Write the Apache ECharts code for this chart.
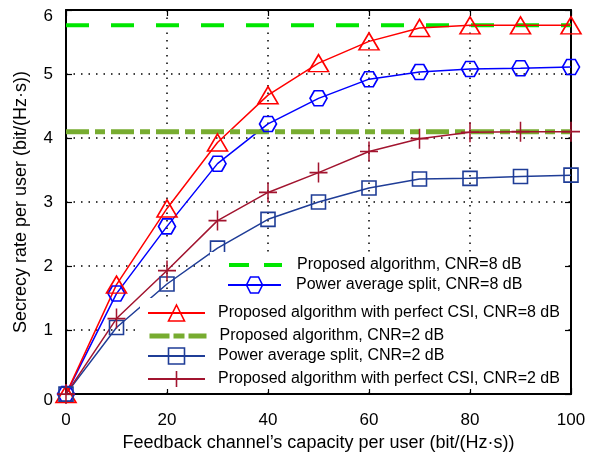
<!DOCTYPE html>
<html>
<head>
<meta charset="utf-8">
<script src="https://cdn.jsdelivr.net/npm/echarts@6/dist/echarts.min.js"></script>
<style>html,body{margin:0;padding:0;background:#fff}#c{width:595px;height:457px}</style>
</head>
<body>
<div id="c"></div>
<script>
// ---- data ----
var xValues = [0, 10, 20, 30, 40, 50, 60, 70, 80, 90, 100];
var proposed8Level = 5.76;
var proposed2Level = 4.1;
var powerAvg8 = [0, 1.57, 2.62, 3.6, 4.22, 4.62, 4.92, 5.03, 5.08, 5.09, 5.11];
var perfect8 = [0, 1.71, 2.9, 3.93, 4.67, 5.17, 5.51, 5.72, 5.76, 5.76, 5.76];
var powerAvg2 = [0, 1.04, 1.72, 2.28, 2.73, 3.0, 3.22, 3.36, 3.37, 3.4, 3.42];
var perfect2 = [0, 1.18, 1.93, 2.71, 3.15, 3.46, 3.79, 3.99, 4.09, 4.1, 4.1];
var levelX = [0, 100];
var seriesNames = [
  'Proposed algorithm, CNR=8 dB',
  'Power average split, CNR=8 dB',
  'Proposed algorithm with perfect CSI, CNR=8 dB',
  'Proposed algorithm, CNR=2 dB',
  'Power average split, CNR=2 dB',
  'Proposed algorithm with perfect CSI, CNR=2 dB'
];
var xTitle = 'Feedback channel\u2019s capacity per user (bit/(Hz\u00b7s))';
var yTitle = 'Secrecy rate per user (bit/(Hz\u00b7s))';

function pairs(xs, ys) { return xs.map(function (x, i) { return [x, ys[i]]; }); }
function level(v) { return levelX.map(function (x) { return [x, v]; }); }

var FONT = '"Liberation Sans", Arial, sans-serif';
var hexagon = 'path://M2.5,0L7.5,0L10,4.33L7.5,8.66L2.5,8.66L0,4.33Z';
var plus = 'path://M0,5L10,5M5,0L5,10';

var chart = echarts.init(document.getElementById('c'), null, {renderer: 'canvas'});

function markerSeries(name, data, color, symbol, size) {
  return {
    name: name, type: 'line', data: data, xAxisIndex: 0, yAxisIndex: 0,
    symbol: symbol, symbolSize: size, showAllSymbol: true,
    lineStyle: {color: color, width: 1.5},
    itemStyle: {color: 'rgba(0,0,0,0)', borderColor: color, borderWidth: 1.6},
    emphasis: {disabled: true}, animation: false, z: 2
  };
}

function rowLegend(name, left, centerY, itemWidth, padLeft, extra) {
  var lg = {
    data: [name], left: left, top: centerY - 10, padding: 0,
    itemWidth: itemWidth, itemHeight: 20, orient: 'vertical',
    selectedMode: false, z: 5,
    textStyle: {fontFamily: FONT, fontSize: 16, color: '#000', lineHeight: 20, padding: [0, 0, 0, padLeft]},
    itemStyle: {borderWidth: 1.6}
  };
  if (extra) Object.keys(extra).forEach(function (k) { lg[k] = extra[k]; });
  return lg;
}

var axisLineStyle = {color: '#000', width: 2};

var option = {
  backgroundColor: '#fff',
  animation: false,
  grid: {left: 66, right: 24, top: 10, bottom: 61, containLabel: false},
  xAxis: [{
    type: 'value', min: 0, max: 100, interval: 20, position: 'bottom',
    axisLine: {show: true, onZero: false, lineStyle: axisLineStyle},
    axisTick: {show: true, inside: true, length: 6, lineStyle: {color: '#000', width: 1.2}},
    axisLabel: {fontFamily: FONT, fontSize: 17, color: '#000', margin: 18},
    splitLine: {show: true, lineStyle: {color: '#000', width: 1.5, type: [1.5, 6]}},
    name: xTitle, nameLocation: 'middle', nameGap: 39,
    nameTextStyle: {fontFamily: FONT, fontSize: 18, color: '#000'}
  }, {
    type: 'value', min: 0, max: 100, interval: 20, position: 'top',
    axisLine: {show: true, onZero: false, lineStyle: axisLineStyle},
    axisTick: {show: true, inside: true, length: 6, lineStyle: {color: '#000', width: 1.2}},
    axisLabel: {show: false}, splitLine: {show: false}
  }],
  yAxis: [{
    type: 'value', min: 0, max: 6, interval: 1, position: 'left',
    axisLine: {show: true, onZero: false, lineStyle: axisLineStyle},
    axisTick: {show: true, inside: true, length: 6, lineStyle: {color: '#000', width: 1.2}},
    axisLabel: {
      fontFamily: FONT, fontSize: 17, color: '#000', margin: 13,
      formatter: function (v) { return (v === 0 || v === 6) ? '{s|' + v + '}' : String(v); },
      rich: {s: {fontFamily: FONT, fontSize: 17, color: '#000', padding: [12, 0, 0, 0]}}
    },
    splitLine: {show: true, lineStyle: {color: '#000', width: 1.5, type: [1.5, 6]}},
    name: yTitle, nameLocation: 'middle', nameGap: 36,
    nameTextStyle: {fontFamily: FONT, fontSize: 18, color: '#000'}
  }, {
    type: 'value', min: 0, max: 6, interval: 1, position: 'right',
    axisLine: {show: true, onZero: false, lineStyle: axisLineStyle},
    axisTick: {show: true, inside: true, length: 6, lineStyle: {color: '#000', width: 1.2}},
    axisLabel: {show: false}, splitLine: {show: false}
  }],
  graphic: [
    {type: 'rect', shape: {x: 210, y: 252, width: 355, height: 47}, style: {fill: '#fff'}, z: 3, silent: true},
    {type: 'rect', shape: {x: 140, y: 298, width: 425, height: 91}, style: {fill: '#fff'}, z: 3, silent: true}
  ],
  legend: [
    rowLegend(seriesNames[0], 227, 265, 53, 10, {itemStyle: {opacity: 0}, lineStyle: {type: [20, 15], width: 4}}),
    rowLegend(seriesNames[1], 227, 285, 53, 10),
    rowLegend(seriesNames[2], 147, 313, 57, 8),
    rowLegend(seriesNames[3], 147, 336, 57, 8, {itemStyle: {opacity: 0}, lineStyle: {type: [20, 4, 11, 4], width: 5}}),
    rowLegend(seriesNames[4], 147, 356, 57, 8),
    rowLegend(seriesNames[5], 147, 379, 57, 8)
  ],
  series: [
    {
      name: seriesNames[0], type: 'line', data: level(proposed8Level), symbol: 'none',
      lineStyle: {color: '#00e600', width: 4, type: [23, 22]},
      itemStyle: {color: '#00e600'}, emphasis: {disabled: true}, z: 2
    },
    markerSeries(seriesNames[1], pairs(xValues, powerAvg8), '#0000ff', hexagon, [17, 15]),
    markerSeries(seriesNames[2], pairs(xValues, perfect8), '#ff0000', 'triangle', [20, 17]),
    {
      name: seriesNames[3], type: 'line', data: level(proposed2Level), symbol: 'none',
      lineStyle: {color: '#77ac30', width: 5, type: [23, 6, 10, 6]},
      itemStyle: {color: '#77ac30'}, emphasis: {disabled: true}, z: 2
    },
    markerSeries(seriesNames[4], pairs(xValues, powerAvg2), '#1f3d97', 'rect', [14, 14]),
    markerSeries(seriesNames[5], pairs(xValues, perfect2), '#a2142f', plus, [18, 20])
  ]
};
chart.setOption(option);
</script>
</body>
</html>
